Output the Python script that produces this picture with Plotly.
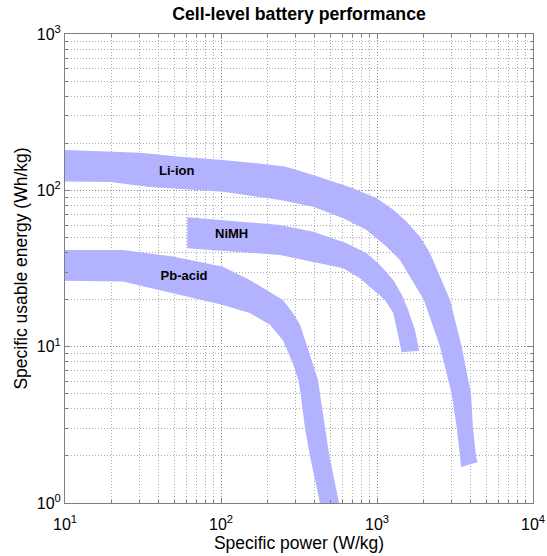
import plotly.graph_objects as go

# ---- data (W/kg, Wh/kg) ----
li_upper_x = [10, 30.3, 54.6, 103, 169, 257, 390, 702, 996, 1272, 1549, 1886, 2188, 2535, 2939, 3493, 4005, 4123, 4310, 4405]
li_upper_y = [181, 174, 164, 156.5, 149, 142, 125.5, 103, 89, 75, 63, 50.5, 39.6, 28.1, 19.9, 10, 4.98, 3.02, 2.0, 1.82]
li_lower_x = [3454, 3406, 3245, 3013, 2535, 2000, 1627, 1403, 1153, 859, 608, 390, 239, 103, 35, 19.4, 10]
li_lower_y = [1.70, 2.0, 3.02, 4.98, 10, 19.9, 28.1, 35.9, 43.6, 55.8, 66.3, 78.6, 86.8, 98.1, 105, 113, 114]

ni_upper_x = [60.8, 153, 239, 390, 639, 859, 1045, 1272, 1445, 1580, 1752, 1867]
ni_upper_y = [67.3, 62.8, 60.1, 54.4, 45.9, 39.6, 33.3, 26.7, 21.4, 17.2, 12.8, 9.4]
ni_lower_x = [1439, 1363, 1272, 1125, 946, 778, 608, 390, 239, 60.8]
ni_lower_y = [9.2, 11.9, 16.4, 19.9, 23.1, 27.4, 31.7, 35, 38.6, 42.6]

pb_upper_x = [10, 23.5, 49.2, 103, 153, 249.5, 289, 321, 372, 419, 431, 464, 495, 571]
pb_upper_y = [41.6, 41.6, 37.7, 32.5, 26.7, 19.9, 16.4, 13.8, 8.85, 6.12, 4.98, 2.97, 2.0, 1.0]
pb_lower_x = [431, 372, 346, 324, 313, 289, 264, 249.5, 206, 153, 103, 49.2, 23.5, 10]
pb_lower_y = [1.0, 2.0, 2.97, 4.98, 6.12, 7.8, 9.5, 11.0, 13.8, 16.4, 18.5, 22, 26.1, 26.4]

labels = ["Li-ion", "NiMH", "Pb-acid"]
label_x = [52, 117, 58]
label_y = [132, 51.8, 28]

x_tickvals = [10, 100, 1000, 10000]
x_ticktext = ["10<sup>1</sup>", "10<sup>2</sup>", "10<sup>3</sup>", "10<sup>4</sup>"]
y_tickvals = [1, 10, 100, 1000]
y_ticktext = ["10<sup>0</sup>", "10<sup>1</sup>", "10<sup>2</sup>", "10<sup>3</sup>"]

BAND = "rgb(178,178,255)"
FONT = "Liberation Sans, Arial, Helvetica, sans-serif"

fig = go.Figure()
for ux, uy, lx, ly in [(li_upper_x, li_upper_y, li_lower_x, li_lower_y),
                       (ni_upper_x, ni_upper_y, ni_lower_x, ni_lower_y),
                       (pb_upper_x, pb_upper_y, pb_lower_x, pb_lower_y)]:
    fig.add_trace(go.Scatter(x=ux + lx, y=uy + ly, mode="lines", fill="toself",
                             fillcolor=BAND, line=dict(width=0, color=BAND),
                             hoverinfo="skip", showlegend=False))

fig.add_trace(go.Scatter(x=label_x, y=label_y, mode="text", text=labels,
                         textfont=dict(family=FONT, size=13, color="black", weight="bold"),
                         showlegend=False, hoverinfo="skip"))

def minor_vals(lo, hi):
    vals = []
    for e in range(lo, hi):
        for m in range(2, 10):
            vals.append(m * 10 ** e)
    return vals

axis_common = dict(
    type="log", showline=True, linecolor="#7f7f7f", linewidth=1, mirror="ticks",
    ticks="inside", ticklen=5, tickcolor="#7f7f7f",
    showgrid=True, gridcolor="#8a8a8a", griddash="1px,2px", gridwidth=1,
    tickfont=dict(family=FONT, size=16, color="black"),
    zeroline=False, automargin=False,
)

fig.update_xaxes(**axis_common, range=[1, 4], tickvals=x_tickvals, ticktext=x_ticktext,
                 ticklabelstandoff=7,
                 minor=dict(tickvals=minor_vals(1, 4), ticks="inside", ticklen=3, tickcolor="#7f7f7f",
                            showgrid=True, gridcolor="#ababab", griddash="1px,2px", gridwidth=1),
                 title=dict(text="Specific power (W/kg)", font=dict(family=FONT, size=17.5, color="black"), standoff=4))
fig.update_yaxes(**axis_common, range=[0, 3], tickvals=y_tickvals, ticktext=y_ticktext,
                 minor=dict(tickvals=minor_vals(0, 3), ticks="inside", ticklen=3, tickcolor="#7f7f7f",
                            showgrid=True, gridcolor="#ababab", griddash="1px,2px", gridwidth=1),
                 title=dict(text="Specific usable energy (Wh/kg)", font=dict(family=FONT, size=17.5, color="black"), standoff=4))

fig.update_layout(
    width=547, height=556, autosize=False,
    margin=dict(l=65, r=14, t=34, b=53, pad=0),
    paper_bgcolor="white", plot_bgcolor="white",
    title=dict(text="<b>Cell-level battery performance</b>", x=0.5, xref="paper",
               y=1 - 14 / 556, yref="container", yanchor="middle",
               font=dict(family=FONT, size=17.7, color="black")),
)

fig.write_html("out.html")
